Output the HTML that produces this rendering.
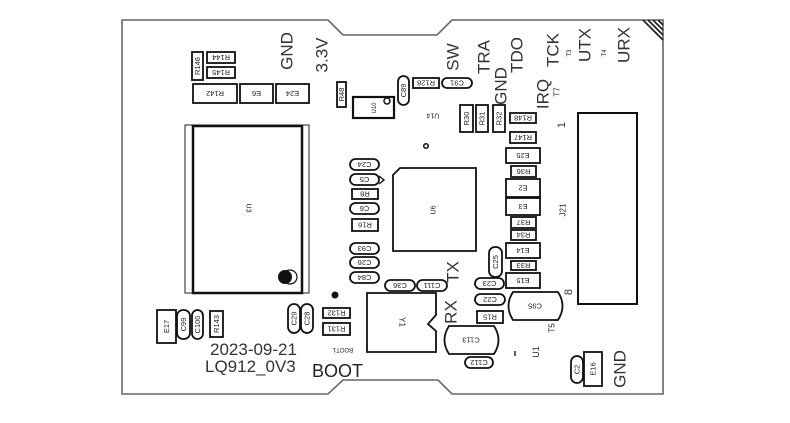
<!DOCTYPE html>
<html><head><meta charset="utf-8"><style>
html,body{margin:0;padding:0;background:#fff;}
svg{display:block;}
text{font-family:"Liberation Sans",sans-serif;}
.s{font-size:7.5px;fill:#222;text-anchor:middle;dominant-baseline:central;}
.b{font-size:17px;fill:#333;text-anchor:middle;dominant-baseline:central;}
.c{fill:#fff;stroke:#111;stroke-width:1.8;}
</style></head><body>
<svg width="790" height="423" viewBox="0 0 790 423" xmlns="http://www.w3.org/2000/svg">
<rect width="790" height="423" fill="#fff"/>
<!-- board outline -->
<path d="M122,20 L328,20 L343,35 L437,35 L452,20 L663,20 L663,394 L452,394 L438,380 L343,380 L328,394 L122,394 Z" fill="none" stroke="#666" stroke-width="1.6"/>
<!-- hatch -->
<g stroke="#222" stroke-width="1.8">
<line x1="643" y1="20" x2="663" y2="40"/>
<line x1="648" y1="20" x2="663" y2="35"/>
<line x1="653" y1="20" x2="663" y2="30"/>
<line x1="658" y1="20" x2="663" y2="25"/>
</g>

<!-- big labels -->
<g class="b">
<text transform="translate(287,51) rotate(-90)" class="b">GND</text>
<text transform="translate(322,55) rotate(-90)" class="b">3.3V</text>
<text transform="translate(453,57) rotate(-90)" class="b">SW</text>
<text transform="translate(484,57) rotate(-90)" class="b">TRA</text>
<text transform="translate(501,86) rotate(-90)" class="b">GND</text>
<text transform="translate(517,55) rotate(-90)" class="b">TDO</text>
<text transform="translate(553,50) rotate(-90)" class="b">TCK</text>
<text transform="translate(585,45) rotate(-90)" class="b">UTX</text>
<text transform="translate(624,45) rotate(-90)" class="b">URX</text>
<text transform="translate(543,94) rotate(-90)" class="b">IRQ</text>
<text transform="translate(453,272) rotate(-90)" class="b">TX</text>
<text transform="translate(451,312) rotate(-90)" class="b">RX</text>
<text transform="translate(620,369) rotate(-90)" class="b">GND</text>
</g>
<text x="210" y="355" style="font-size:17px;fill:#333">2023-09-21</text>
<text x="205" y="372" style="font-size:17px;fill:#333">LQ912_0V3</text>
<text x="312" y="377" style="font-size:18px;fill:#222">BOOT</text>

<!-- small misc labels -->
<text class="s" style="font-size:6px" transform="translate(570,53) rotate(-90)">T3</text>
<text class="s" style="font-size:6px" transform="translate(605,53) rotate(-90)">T4</text>
<text class="s" style="font-size:8px" transform="translate(557,92) rotate(-90)">T7</text>
<text class="s" style="font-size:8px" transform="translate(552,328) rotate(-90)">T5</text>
<text class="s" style="font-size:9px" transform="translate(536,352) rotate(-90)">U1</text>
<text class="s" style="font-size:7px" transform="translate(433,115) rotate(180)">U14</text>
<text class="s" style="font-size:7px" transform="translate(434,210) rotate(-90)">U6</text>
<text class="s" style="font-size:8px" transform="translate(563,210) rotate(-90)">J21</text>
<text class="s" style="font-size:8px" transform="translate(402,322) rotate(90)">Y1</text>
<text class="s" style="font-size:7px" transform="translate(248,208) rotate(90)">U3</text>
<text class="s" style="font-size:6px" transform="translate(343,349) rotate(180)">BOOT1</text>
<text class="s" style="font-size:11px;fill:#333" transform="translate(562,125) rotate(-90)">1</text>
<text class="s" style="font-size:11px;fill:#333" transform="translate(569,292) rotate(-90)">8</text>

<!-- U3 -->
<rect x="185" y="125" width="124" height="168" fill="none" stroke="#222" stroke-width="1"/>
<rect x="193" y="126" width="109" height="167" fill="none" stroke="#111" stroke-width="2.5"/>
<circle cx="290" cy="277" r="7" fill="#fff" stroke="#111" stroke-width="1.2"/>
<circle cx="285" cy="277" r="7" fill="#111"/>

<!-- U6 -->
<path d="M400,168 L476,168 L476,251 L393,251 L393,175 Z" class="c" fill="none" style="fill:none"/>
<!-- J21 -->
<rect x="578" y="113" width="59" height="191" fill="none" stroke="#111" stroke-width="2"/>
<!-- Y1 -->
<path d="M367,293 L436,293 L436,315 L428,324 L436,331 L436,352 L367,352 Z" fill="none" stroke="#111" stroke-width="1.8"/>
<!-- C95, C113 -->
<path d="M513,292 L558,292 Q567,306 558,320 L513,320 Q504,306 513,292 Z" class="c"/>
<text class="s" transform="translate(535,306) rotate(180)">C95</text>
<path d="M449,326 L494,326 Q503,340 494,354 L449,354 Q440,340 449,326 Z" class="c"/>
<text class="s" transform="translate(471,340) rotate(180)">C113</text>
<!-- U10 -->
<rect x="353" y="97" width="41" height="21" class="c" style="stroke-width:2.2"/>
<circle cx="387" cy="101" r="3" fill="#fff" stroke="#111" stroke-width="1.5"/>
<text class="s" style="font-size:6px" transform="translate(375,108) rotate(-90)">U10</text>

<!-- dots -->
<circle cx="426" cy="146" r="2.3" fill="none" stroke="#111" stroke-width="1.5"/>
<circle cx="335" cy="295" r="3.5" fill="#111"/>
<line x1="515" y1="351" x2="515" y2="356" stroke="#222" stroke-width="1.5"/>

<!-- horizontal resistors -->
<g>
<rect class="c" x="207" y="52" width="28" height="11"/><text class="s" transform="translate(221,57.5) rotate(180)">R144</text>
<rect class="c" x="207" y="67" width="28" height="11"/><text class="s" transform="translate(221,72.5) rotate(180)">R145</text>
<rect class="c" x="193" y="84" width="44" height="19"/><text class="s" transform="translate(215,93.5) rotate(180)">R142</text>
<rect class="c" x="240" y="84" width="33" height="19"/><text class="s" transform="translate(256.5,93.5) rotate(180)">E6</text>
<rect class="c" x="276" y="84" width="33" height="19"/><text class="s" transform="translate(292.5,93.5) rotate(180)">E24</text>
<rect class="c" x="413" y="78" width="26" height="10"/><text class="s" transform="translate(426,83) rotate(180)">R128</text>
<rect class="c" x="510" y="113" width="26" height="10"/><text class="s" transform="translate(523,118) rotate(180)">R148</text>
<rect class="c" x="510" y="132" width="26" height="11"/><text class="s" transform="translate(523,137.5) rotate(180)">R147</text>
<rect class="c" x="506" y="148" width="34" height="15"/><text class="s" transform="translate(523,155.5) rotate(180)">E25</text>
<rect class="c" x="511" y="166" width="25" height="11"/><text class="s" transform="translate(523.5,171.5) rotate(180)">R36</text>
<rect class="c" x="506" y="179" width="34" height="18"/><text class="s" transform="translate(523,188) rotate(180)">E2</text>
<rect class="c" x="506" y="198" width="34" height="17"/><text class="s" transform="translate(523,206.5) rotate(180)">E3</text>
<rect class="c" x="511" y="217" width="25" height="11"/><text class="s" transform="translate(523.5,222.5) rotate(180)">R37</text>
<rect class="c" x="511" y="230" width="25" height="10"/><text class="s" transform="translate(523.5,235) rotate(180)">R34</text>
<rect class="c" x="506" y="243" width="34" height="15"/><text class="s" transform="translate(523,250.5) rotate(180)">E14</text>
<rect class="c" x="511" y="261" width="25" height="9"/><text class="s" transform="translate(523.5,265.5) rotate(180)">R33</text>
<rect class="c" x="506" y="273" width="34" height="15"/><text class="s" transform="translate(523,280.5) rotate(180)">E15</text>
<rect class="c" x="352" y="189" width="26" height="10"/><text class="s" transform="translate(365,194) rotate(180)">R8</text>
<rect class="c" x="352" y="219" width="26" height="12"/><text class="s" transform="translate(365,225) rotate(180)">R16</text>
<rect class="c" x="477" y="311" width="26" height="12"/><text class="s" transform="translate(490,317) rotate(180)">R15</text>
<rect class="c" x="323" y="308" width="27" height="10"/><text class="s" transform="translate(336.5,313) rotate(180)">R132</text>
<rect class="c" x="323" y="323" width="27" height="12"/><text class="s" transform="translate(336.5,329) rotate(180)">R131</text>
</g>
<!-- vertical resistors -->
<g>
<rect class="c" x="192" y="52" width="11" height="28"/><text class="s" transform="translate(197.5,66) rotate(-90)">R146</text>
<rect class="c" x="337" y="82" width="9" height="25"/><text class="s" transform="translate(341.5,94.5) rotate(-90)">R48</text>
<rect class="c" x="460" y="105" width="13" height="27"/><text class="s" transform="translate(466.5,118.5) rotate(-90)">R30</text>
<rect class="c" x="476" y="105" width="12" height="27"/><text class="s" transform="translate(482,118.5) rotate(-90)">R31</text>
<rect class="c" x="493" y="105" width="12" height="27"/><text class="s" transform="translate(499,118.5) rotate(-90)">R32</text>
<rect class="c" x="210" y="311" width="13" height="26"/><text class="s" transform="translate(216.5,324) rotate(-90)">R143</text>
<rect class="c" x="157" y="310" width="19" height="33"/><text class="s" transform="translate(166.5,326.5) rotate(-90)">E17</text>
<rect class="c" x="584" y="352" width="18" height="34"/><text class="s" transform="translate(593,369) rotate(-90)">E16</text>
</g>
<!-- horizontal caps -->
<g>
<rect class="c" x="442" y="78" width="30" height="10" rx="5"/><text class="s" transform="translate(457,83) rotate(180)">C91</text>
<rect class="c" x="350" y="159" width="29" height="11" rx="5.5"/><text class="s" transform="translate(364.5,164.5) rotate(180)">C24</text>
<path d="M379,176 L384,180 L379,184" fill="#fff" stroke="#111" stroke-width="1.4"/>
<rect class="c" x="350" y="174" width="29" height="11" rx="5.5"/><text class="s" transform="translate(364.5,179.5) rotate(180)">C5</text>
<rect class="c" x="350" y="203" width="29" height="11" rx="5.5"/><text class="s" transform="translate(364.5,208.5) rotate(180)">C6</text>
<rect class="c" x="350" y="243" width="29" height="11" rx="5.5"/><text class="s" transform="translate(364.5,248.5) rotate(180)">C93</text>
<rect class="c" x="350" y="257" width="29" height="11" rx="5.5"/><text class="s" transform="translate(364.5,262.5) rotate(180)">C26</text>
<rect class="c" x="350" y="272" width="29" height="11" rx="5.5"/><text class="s" transform="translate(364.5,277.5) rotate(180)">C84</text>
<rect class="c" x="385" y="280" width="30" height="11" rx="5.5"/><text class="s" transform="translate(400,285.5) rotate(180)">C36</text>
<rect class="c" x="417" y="280" width="30" height="11" rx="5.5"/><text class="s" transform="translate(432,285.5) rotate(180)">C111</text>
<rect class="c" x="475" y="278" width="29" height="11" rx="5.5"/><text class="s" transform="translate(489.5,283.5) rotate(180)">C23</text>
<rect class="c" x="475" y="294" width="30" height="11" rx="5.5"/><text class="s" transform="translate(490,299.5) rotate(180)">C22</text>
<rect class="c" x="465" y="357" width="28" height="11" rx="5.5"/><text class="s" transform="translate(479,362.5) rotate(180)">C112</text>
</g>
<!-- vertical caps -->
<g>
<rect class="c" x="398" y="76" width="11" height="29" rx="5.5"/><text class="s" transform="translate(403.5,90.5) rotate(-90)">C89</text>
<rect class="c" x="489" y="247" width="13" height="30" rx="6"/><text class="s" transform="translate(495.5,262) rotate(-90)">C25</text>
<rect class="c" x="177" y="310" width="13" height="29" rx="6"/><text class="s" transform="translate(183.5,324.5) rotate(-90)">C99</text>
<rect class="c" x="192" y="310" width="11" height="29" rx="5.5"/><text class="s" transform="translate(197.5,324.5) rotate(-90)">C100</text>
<rect class="c" x="288" y="304" width="12" height="29" rx="6"/><text class="s" transform="translate(294,318.5) rotate(-90)">C29</text>
<rect class="c" x="301" y="304" width="12" height="29" rx="6"/><text class="s" transform="translate(307,318.5) rotate(-90)">C28</text>
<rect class="c" x="571" y="356" width="12" height="27" rx="6"/><text class="s" transform="translate(577,369.5) rotate(-90)">C2</text>
</g>
</svg>
</body></html>
